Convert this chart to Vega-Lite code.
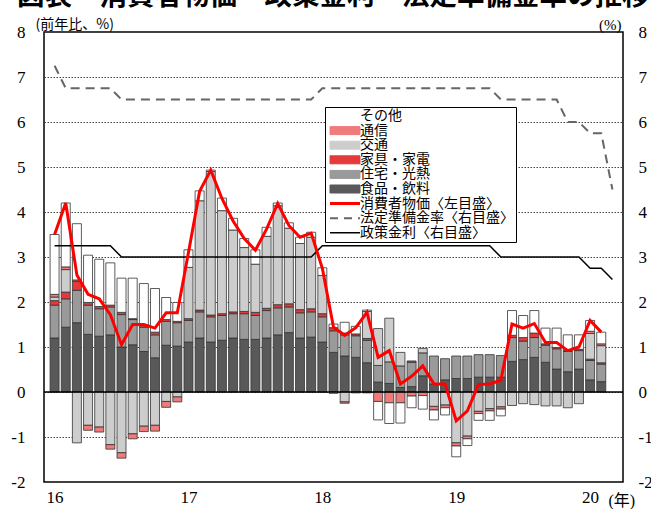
{
  "$schema": "https://vega.github.io/schema/vega-lite/v6.json",
  "width": 579,
  "height": 450,
  "autosize": {"type": "none"},
  "padding": {"left": 44, "top": 32, "right": 28, "bottom": 27},
  "background": "white",
  "config": {"view": {"stroke": "#000", "strokeWidth": 1.5}},
  "title": {"text": "図表　消費者物価・政策金利・法定準備金率の推移", "anchor": "start", "frame": "group", "font": "Noto Sans CJK JP", "fontSize": 27.5, "fontWeight": "bold", "color": "#000", "dx": -27, "dy": 25, "baseline": "bottom", "offset": 4},
  "datasets": {
    "d": [
      {"i":0,"f":1.2,"h":0.73,"k":0.1,"t":0.08,"c":0.06,"o":1.33,"cpi":3.5,"rrr":7.25,"rate":3.25},
      {"i":1,"f":1.44,"h":0.63,"k":0.15,"t":0.5,"c":0.06,"o":1.42,"cpi":4.2,"rrr":6.75,"rate":3.25},
      {"i":2,"f":1.54,"h":0.72,"k":0.2,"t":-1.13,"c":0.03,"o":1.25,"cpi":2.6,"rrr":6.75,"rate":3.25},
      {"i":3,"f":1.28,"h":0.65,"k":0.06,"t":-0.74,"c":-0.11,"o":1.05,"cpi":2.17,"rrr":6.75,"rate":3.25},
      {"i":4,"f":1.24,"h":0.61,"k":0.05,"t":-0.78,"c":-0.11,"o":1.05,"cpi":2.07,"rrr":6.75,"rate":3.25},
      {"i":5,"f":1.27,"h":0.62,"k":0.04,"t":-1.17,"c":-0.1,"o":0.94,"cpi":1.72,"rrr":6.75,"rate":3.25},
      {"i":6,"f":1.0,"h":0.72,"k":0.05,"t":-1.35,"c":-0.12,"o":0.76,"cpi":1.05,"rrr":6.5,"rate":3.0},
      {"i":7,"f":1.05,"h":0.56,"k":0.02,"t":-0.93,"c":-0.11,"o":0.9,"cpi":1.5,"rrr":6.5,"rate":3.0},
      {"i":8,"f":0.9,"h":0.54,"k":0.04,"t":-0.76,"c":-0.12,"o":0.93,"cpi":1.5,"rrr":6.5,"rate":3.0},
      {"i":9,"f":0.76,"h":0.51,"k":0.06,"t":-0.74,"c":-0.13,"o":0.97,"cpi":1.42,"rrr":6.5,"rate":3.0},
      {"i":10,"f":1.04,"h":0.53,"k":0.04,"t":-0.21,"c":-0.13,"o":0.49,"cpi":1.76,"rrr":6.5,"rate":3.0},
      {"i":11,"f":1.02,"h":0.52,"k":0.03,"t":-0.11,"c":-0.11,"o":0.42,"cpi":1.76,"rrr":6.5,"rate":3.0},
      {"i":12,"f":1.11,"h":0.48,"k":0.04,"t":1.14,"o":0.39,"cpi":3.1,"rrr":6.5,"rate":3.0},
      {"i":13,"f":1.2,"h":0.58,"k":0.04,"t":2.43,"o":0.22,"cpi":4.46,"rrr":6.5,"rate":3.0},
      {"i":14,"f":1.11,"h":0.56,"k":0.04,"t":3.19,"o":0.03,"cpi":4.93,"rrr":6.5,"rate":3.0},
      {"i":15,"f":1.15,"h":0.55,"k":0.04,"t":2.29,"o":0.28,"cpi":4.3,"rrr":6.5,"rate":3.0},
      {"i":16,"f":1.2,"h":0.54,"k":0.04,"t":1.82,"o":0.26,"cpi":3.8,"rrr":6.5,"rate":3.0},
      {"i":17,"f":1.17,"h":0.57,"k":0.05,"t":1.42,"o":0.2,"cpi":3.41,"rrr":6.5,"rate":3.0},
      {"i":18,"f":1.17,"h":0.53,"k":0.07,"t":1.07,"o":0.32,"cpi":3.15,"rrr":6.5,"rate":3.0},
      {"i":19,"f":1.2,"h":0.61,"k":0.05,"t":1.6,"o":0.2,"cpi":3.62,"rrr":6.5,"rate":3.0},
      {"i":20,"f":1.27,"h":0.6,"k":0.07,"t":2.2,"o":0.06,"cpi":4.19,"rrr":6.5,"rate":3.0},
      {"i":21,"f":1.32,"h":0.57,"k":0.07,"t":1.68,"o":0.12,"cpi":3.7,"rrr":6.5,"rate":3.0},
      {"i":22,"f":1.2,"h":0.56,"k":0.07,"t":1.47,"o":0.14,"cpi":3.44,"rrr":6.5,"rate":3.0},
      {"i":23,"f":1.22,"h":0.56,"k":0.07,"t":1.59,"o":0.11,"cpi":3.53,"rrr":6.5,"rate":3.0},
      {"i":24,"f":1.11,"h":0.56,"k":0.07,"t":0.85,"o":0.17,"cpi":2.75,"rrr":6.75,"rate":3.25},
      {"i":25,"f":0.88,"h":0.48,"k":0.07,"t":-0.03,"o":0.08,"cpi":1.44,"rrr":6.75,"rate":3.25},
      {"i":26,"f":0.8,"h":0.47,"k":0.04,"t":-0.22,"c":-0.03,"o":0.24,"cpi":1.26,"rrr":6.75,"rate":3.25},
      {"i":27,"f":0.77,"h":0.48,"k":0.04,"t":-0.02,"o":0.17,"cpi":1.43,"rrr":6.75,"rate":3.25},
      {"i":28,"f":0.65,"h":0.5,"k":0.04,"t":0.6,"c":-0.02,"o":0.03,"cpi":1.77,"rrr":6.75,"rate":3.25},
      {"i":29,"f":0.22,"h":0.37,"t":0.82,"c":-0.21,"o":-0.41,"cpi":0.77,"rrr":6.75,"rate":3.25},
      {"i":30,"f":0.19,"h":0.48,"t":0.97,"c":-0.24,"o":-0.46,"cpi":0.92,"rrr":6.75,"rate":3.25},
      {"i":31,"f":0.1,"h":0.48,"t":0.3,"c":-0.24,"o":-0.45,"cpi":0.18,"rrr":6.75,"rate":3.25},
      {"i":32,"f":0.12,"h":0.54,"k":0.03,"c":-0.09,"o":-0.26,"cpi":0.35,"rrr":6.75,"rate":3.25},
      {"i":33,"f":0.36,"h":0.51,"t":0.1,"c":-0.08,"o":-0.3,"cpi":0.58,"rrr":6.75,"rate":3.25},
      {"i":34,"f":0.18,"h":0.62,"t":-0.32,"c":-0.08,"o":-0.22,"cpi":0.18,"rrr":6.75,"rate":3.25},
      {"i":35,"f":0.27,"h":0.47,"t":-0.29,"c":-0.06,"o":-0.16,"cpi":0.18,"rrr":6.75,"rate":3.25},
      {"i":36,"f":0.3,"h":0.5,"t":-1.13,"c":-0.07,"o":-0.24,"cpi":-0.64,"rrr":6.75,"rate":3.25},
      {"i":37,"f":0.3,"h":0.5,"t":-0.98,"c":-0.06,"o":-0.15,"cpi":-0.42,"rrr":6.75,"rate":3.25},
      {"i":38,"f":0.33,"h":0.5,"t":-0.43,"c":-0.05,"o":-0.15,"cpi":0.17,"rrr":6.75,"rate":3.25},
      {"i":39,"f":0.33,"h":0.5,"t":-0.37,"c":-0.05,"o":-0.21,"cpi":0.18,"rrr":6.75,"rate":3.25},
      {"i":40,"f":0.33,"h":0.48,"t":-0.33,"c":-0.05,"o":-0.15,"cpi":0.26,"rrr":6.5,"rate":3.0},
      {"i":41,"f":0.68,"h":0.53,"k":0.05,"t":-0.3,"o":0.55,"cpi":1.51,"rrr":6.5,"rate":3.0},
      {"i":42,"f":0.72,"h":0.41,"k":0.08,"t":-0.26,"o":0.49,"cpi":1.42,"rrr":6.5,"rate":3.0},
      {"i":43,"f":0.77,"h":0.44,"k":0.1,"t":-0.28,"o":0.5,"cpi":1.52,"rrr":6.5,"rate":3.0},
      {"i":44,"f":0.66,"h":0.38,"k":0.03,"t":-0.31,"o":0.35,"cpi":1.1,"rrr":6.5,"rate":3.0},
      {"i":45,"f":0.51,"h":0.45,"k":0.03,"t":-0.31,"o":0.43,"cpi":1.1,"rrr":6.5,"rate":3.0},
      {"i":46,"f":0.45,"h":0.45,"k":0.03,"t":-0.35,"o":0.34,"cpi":0.92,"rrr":6.0,"rate":3.0},
      {"i":47,"f":0.51,"h":0.41,"k":0.03,"t":-0.26,"o":0.32,"cpi":1.0,"rrr":6.0,"rate":3.0},
      {"i":48,"f":0.27,"h":0.43,"k":0.03,"t":0.57,"c":0.05,"o":0.24,"cpi":1.59,"rrr":5.75,"rate":2.75},
      {"i":49,"f":0.23,"h":0.39,"k":0.03,"t":0.38,"c":0.04,"o":0.26,"cpi":1.33,"rrr":5.75,"rate":2.75},
      {"i":50,"rrr":4.5,"rate":2.5}
    ]
  },
  "resolve": {"scale": {"y": "independent"}},
  "layer": [
    {
      "data": {"name": "d"},
      "transform": [
        {"fold": ["f", "h", "k", "t", "c", "o"], "as": ["key", "v"]},
        {"filter": "isValid(datum.v) && datum.v != 0"},
        {"calculate": "{'f':'食品・飲料','h':'住宅・光熱','k':'家具・家電','t':'交通','c':'通信','o':'その他'}[datum.key]", "as": "s"},
        {"calculate": "indexof(['f','h','k','t','c','o'], datum.key)", "as": "ord"}
      ],
      "mark": {"type": "bar", "size": 9, "stroke": "#333", "strokeWidth": 0.8},
      "encoding": {
        "x": {"field": "i", "type": "quantitative", "scale": {"domain": [-0.5, 50.5], "nice": false, "zero": false},
          "axis": {"values": [0, 12, 24, 36, 48], "labelExpr": "'' + (16 + datum.value / 12)", "ticks": false, "domain": false, "grid": false,
            "labelFont": "Liberation Serif", "labelFontSize": 17, "labelPadding": 7, "labelColor": "#000",
            "title": "(年)", "titleX": 564, "titleY": 18, "titleAlign": "left", "titleBaseline": "middle",
            "titleFont": "Liberation Serif, Noto Sans CJK JP", "titleFontSize": 16, "titleFontWeight": "normal", "titleColor": "#000"}},
        "y": {"field": "v", "type": "quantitative", "stack": "zero", "scale": {"domain": [-2, 8], "nice": false},
          "axis": {"orient": "left", "values": [-2, -1, 0, 1, 2, 3, 4, 5, 6, 7, 8], "labelExpr": "'' + datum.value", "grid": true, "gridDash": [1.5, 1.5], "gridColor": "#444", "gridWidth": 1,
            "ticks": false, "domain": false, "labelFont": "Liberation Serif", "labelFontSize": 17, "labelPadding": 19, "labelColor": "#000",
            "title": "(前年比、%)", "titleAngle": 0, "titleX": -9, "titleY": -8, "titleAlign": "left", "titleBaseline": "middle",
            "titleFont": "Noto Sans CJK JP", "titleFontSize": 14, "titleFontWeight": "normal", "titleColor": "#000"}},
        "color": {"field": "s", "type": "nominal",
          "scale": {"domain": ["その他", "通信", "交通", "家具・家電", "住宅・光熱", "食品・飲料", "消費者物価〈左目盛〉", "法定準備金率〈右目盛〉", "政策金利〈右目盛〉"],
            "range": ["#ffffff", "#ef7b7b", "#cdcdcd", "#e53a3a", "#9a9a9a", "#595959", "#ff0000", "#666666", "#000000"]},
          "legend": {"orient": "none", "legendX": 281, "legendY": 75, "title": null, "strokeColor": "#000", "fillColor": "#fff", "padding": 2,
            "labelFont": "Noto Sans CJK JP", "labelFontSize": 14, "labelColor": "#000", "labelLimit": 300, "rowPadding": 0.6,
            "symbolType": {"expr": "indexof(['消費者物価〈左目盛〉','法定準備金率〈右目盛〉','政策金利〈右目盛〉'], datum.value) >= 0 ? 'M-3.75,0H3.75' : 'M-3.75,-1H3.75V1H-3.75Z'"},
            "symbolSize": 64,
            "symbolStrokeColor": "#000",
            "symbolStrokeWidth": {"expr": "datum.value == '消費者物価〈左目盛〉' ? 3 : datum.value == '法定準備金率〈右目盛〉' ? 2 : datum.value == '政策金利〈右目盛〉' ? 1.5 : 1"},
            "symbolDash": {"expr": "datum.value == '法定準備金率〈右目盛〉' ? [8, 6] : [1, 0]"},
            "symbolOffset": 11, "labelOffset": 8}},
        "order": {"field": "ord", "type": "quantitative"}
      }
    },
    {
      "data": {"values": [{}]},
      "mark": {"type": "rule", "color": "#000", "strokeWidth": 1.3},
      "encoding": {"y": {"datum": 0, "type": "quantitative", "scale": {"domain": [-2, 8], "nice": false}, "axis": null}}
    },
    {
      "data": {"name": "d"},
      "transform": [
        {"fold": ["cpi", "rrr", "rate"], "as": ["key", "v"]},
        {"filter": "isValid(datum.v)"},
        {"calculate": "{'cpi':'消費者物価〈左目盛〉','rrr':'法定準備金率〈右目盛〉','rate':'政策金利〈右目盛〉'}[datum.key]", "as": "s"}
      ],
      "encoding": {
        "x": {"field": "i", "type": "quantitative"},
        "y": {"field": "v", "type": "quantitative", "scale": {"domain": [-2, 8], "nice": false},
          "axis": {"orient": "right", "values": [-2, -1, 0, 1, 2, 3, 4, 5, 6, 7, 8], "labelExpr": "'' + datum.value", "grid": false, "ticks": false, "domain": false,
            "labelFont": "Liberation Serif", "labelFontSize": 17, "labelPadding": 15, "labelColor": "#000",
            "title": "(%)", "titleAngle": 0, "titleX": -2, "titleY": -8, "titleAlign": "right", "titleBaseline": "middle",
            "titleFont": "Liberation Serif", "titleFontSize": 15, "titleFontWeight": "normal", "titleColor": "#000"}},
        "color": {"field": "s", "type": "nominal",
          "scale": {"domain": ["その他", "通信", "交通", "家具・家電", "住宅・光熱", "食品・飲料", "消費者物価〈左目盛〉", "法定準備金率〈右目盛〉", "政策金利〈右目盛〉"],
            "range": ["#ffffff", "#ef7b7b", "#cdcdcd", "#e53a3a", "#9a9a9a", "#595959", "#ff0000", "#666666", "#000000"]}}
      },
      "layer": [
        {"transform": [{"filter": "datum.key == 'rrr'"}], "mark": {"type": "line", "strokeWidth": 2, "strokeDash": [9, 6]}},
        {"transform": [{"filter": "datum.key == 'rate'"}], "mark": {"type": "line", "strokeWidth": 1.5}},
        {"transform": [{"filter": "datum.key == 'cpi'"}], "mark": {"type": "line", "strokeWidth": 3}}
      ]
    }
  ]
}
